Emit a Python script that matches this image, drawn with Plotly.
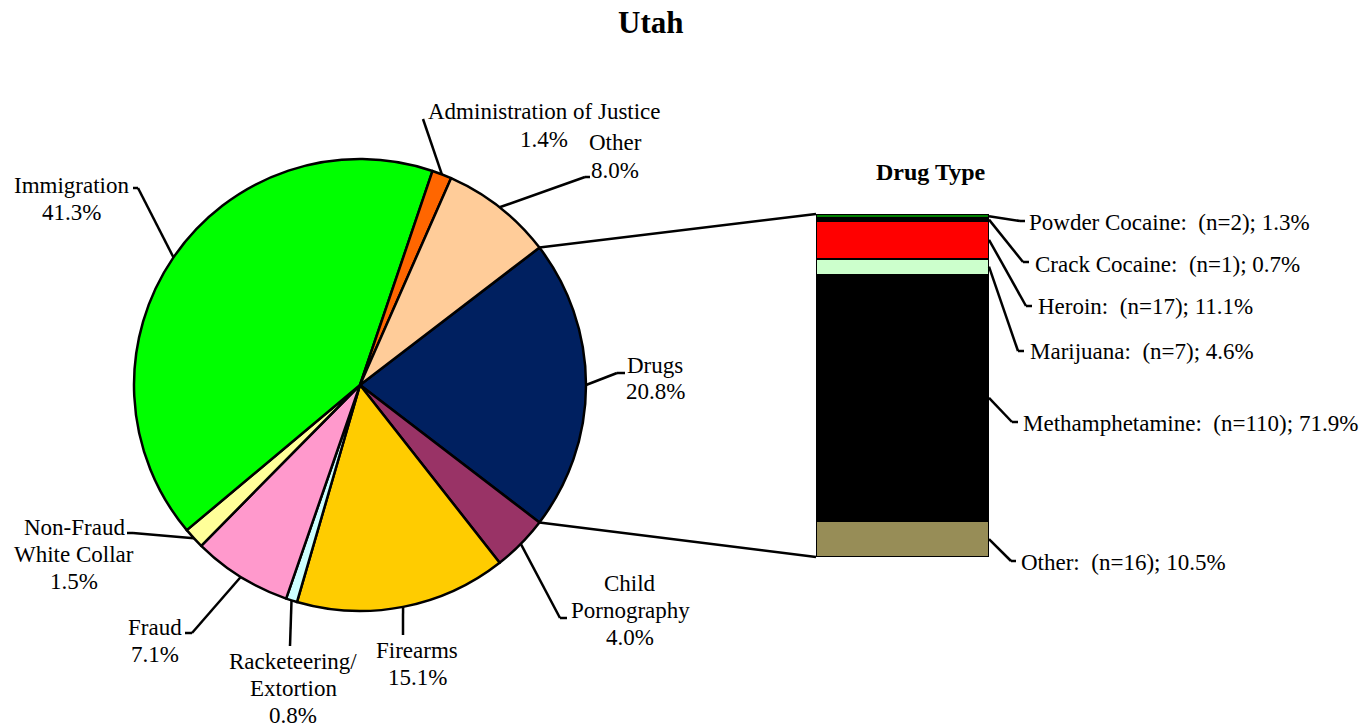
import numpy as np
import plotly.graph_objects as go

W, H = 1368, 725

# ---------------- data ----------------
offense_labels = ["Drugs", "Child Pornography", "Firearms", "Racketeering/ Extortion",
                  "Fraud", "Non-Fraud White Collar", "Immigration",
                  "Administration of Justice", "Other"]
offense_lines = [["Drugs"], ["Child", "Pornography"], ["Firearms"],
                 ["Racketeering/", "Extortion"], ["Fraud"], ["Non-Fraud", "White Collar"],
                 ["Immigration"], ["Administration of Justice"], ["Other"]]
offense_pcts = [20.8, 4.0, 15.1, 0.8, 7.1, 1.5, 41.3, 1.4, 8.0]

drug_types = ["Powder Cocaine", "Crack Cocaine", "Heroin", "Marijuana",
              "Methamphetamine", "Other"]
drug_counts = [2, 1, 17, 7, 110, 16]
drug_pcts = [1.3, 0.7, 11.1, 4.6, 71.9, 10.5]

# ---------------- styles / layout ----------------
offense_colors = ["#002060", "#993366", "#FFCC00", "#CCFFFF", "#FF99CC",
                  "#FFFF99", "#00FF00", "#FF6600", "#FFCC99"]
drug_colors = ["#008000", "#000000", "#FF0000", "#CCFFCC", "#000000", "#978D57"]

FONT = "Liberation Serif, Times New Roman, serif"
FS = 23
LINE_H = 27

# pie geometry (pixels)
CX, CY, R = 360, 385, 226
ROT = 90 - offense_pcts[0] * 3.6 / 2   # first slice centred at 3 o'clock

# bar geometry (pixels)
BX0, BX1, BY0, BY1 = 816, 989, 214, 557

# label layout (pixels): text-block centre x, first line y, elbow, stub end
pie_label_pos = [
    (655, 365, (617, 373), (625, 373)),
    (630, 583, (560, 618), (567, 618)),
    (417, 650, (403, 635), (403, 635)),
    (293, 661, (290, 646), (290, 646)),
    (155, 627, (192, 633), (185, 633)),
    (74, 527, (133, 533), (127, 533)),
    (71, 185, (138, 188), (133, 188)),
    (544, 112, (423, 119), (423, 119)),
    (615, 143, (585, 177), (590, 177)),
]
bar_label_pos = [
    (1027, 222, (1020, 221), (1025, 221)),
    (1033, 264, (1023, 262), (1029, 262)),
    (1036, 306, (1026, 306), (1032, 306)),
    (1028, 352, (1018, 351), (1024, 351)),
    (1021, 423, (1012, 422), (1018, 422)),
    (1019, 562, (1011, 561), (1016, 561)),
]


def px(x):
    return x / W


def py(y):
    return 1 - y / H


fig = go.Figure()

# ---------------- pie ----------------
fig.add_trace(go.Pie(
    labels=offense_labels, values=offense_pcts, sort=False, direction="clockwise",
    rotation=ROT, textinfo="none", hoverinfo="label+percent",
    marker=dict(colors=offense_colors, line=dict(color="black", width=2.5)),
    domain=dict(x=[px(CX - R), px(CX + R)], y=[py(CY + R), py(CY - R)]),
    showlegend=False,
))

# ---------------- stacked bar (top to bottom order -> add reversed) ----------------
for name, n, col in reversed(list(zip(drug_types, drug_counts, drug_colors))):
    fig.add_trace(go.Bar(
        x=[0], y=[n], name=name, width=1,
        marker=dict(color=col, line=dict(color="black", width=2.5)),
        xaxis="x", yaxis="y", showlegend=False, hoverinfo="name+y",
    ))

total_n = sum(drug_counts)
fig.update_layout(
    barmode="stack", bargap=0,
    xaxis=dict(domain=[px(BX0), px(BX1)], range=[-0.5, 0.5], visible=False, fixedrange=True),
    yaxis=dict(domain=[py(BY1), py(BY0)], range=[0, total_n], visible=False, fixedrange=True),
)

shapes = []
annotations = []


def line(p0, p1):
    shapes.append(dict(type="line", xref="paper", yref="paper",
                       x0=px(p0[0]), y0=py(p0[1]), x1=px(p1[0]), y1=py(p1[1]),
                       line=dict(color="black", width=2.5)))


# pie labels with leader lines
cum = 0.0
angles = []
for pct in offense_pcts:
    angles.append(ROT + (cum + pct / 2) * 3.6)
    cum += pct
for i, (lines, pct) in enumerate(zip(offense_lines, offense_pcts)):
    a = np.radians(angles[i])
    edge = (CX + R * np.sin(a), CY - R * np.cos(a))
    tx, ty0, elbow, stub = pie_label_pos[i]
    line(edge, elbow)
    if stub != elbow:
        line(elbow, stub)
    for k, t in enumerate(lines + [f"{pct:.1f}%"]):
        annotations.append(dict(x=px(tx), y=py(ty0 + k * LINE_H), xref="paper", yref="paper",
                                text=t, showarrow=False, xanchor="center", yanchor="middle",
                                font=dict(family=FONT, size=FS, color="black")))

# connector lines pie -> bar (drugs slice boundaries)
a_start = np.radians(ROT)
a_end = np.radians(ROT + offense_pcts[0] * 3.6)
line((CX + R * np.sin(a_start), CY - R * np.cos(a_start)), (BX0, BY0))
line((CX + R * np.sin(a_end), CY - R * np.cos(a_end)), (BX0, BY1))

# bar labels
cum_n = 0
for i, (name, n, p) in enumerate(zip(drug_types, drug_counts, drug_pcts)):
    mid = BY0 + (cum_n + n / 2) / total_n * (BY1 - BY0)
    cum_n += n
    tx, ty, elbow, stub = bar_label_pos[i]
    line((BX1, mid), elbow)
    line(elbow, stub)
    annotations.append(dict(x=px(tx), y=py(ty), xref="paper", yref="paper",
                            text=f"{name}:\u00a0 (n={n}); {p:.1f}%", showarrow=False,
                            xanchor="left", yanchor="middle",
                            font=dict(family=FONT, size=FS, color="black")))

# titles
annotations.append(dict(x=px(650), y=py(22), xref="paper", yref="paper", text="<b>Utah</b>",
                        showarrow=False, xanchor="center", yanchor="middle",
                        font=dict(family=FONT, size=31, color="black")))
annotations.append(dict(x=px(930), y=py(172), xref="paper", yref="paper", text="<b>Drug Type</b>",
                        showarrow=False, xanchor="center", yanchor="middle",
                        font=dict(family=FONT, size=24, color="black")))

fig.update_layout(
    width=W, height=H, margin=dict(l=0, r=0, t=0, b=0),
    paper_bgcolor="white", plot_bgcolor="white",
    shapes=shapes, annotations=annotations,
    font=dict(family=FONT, size=FS, color="black"),
)

fig.write_html("out.html", config={"displayModeBar": False},
               post_script="document.body.style.margin='0';document.body.style.overflow='hidden';")
